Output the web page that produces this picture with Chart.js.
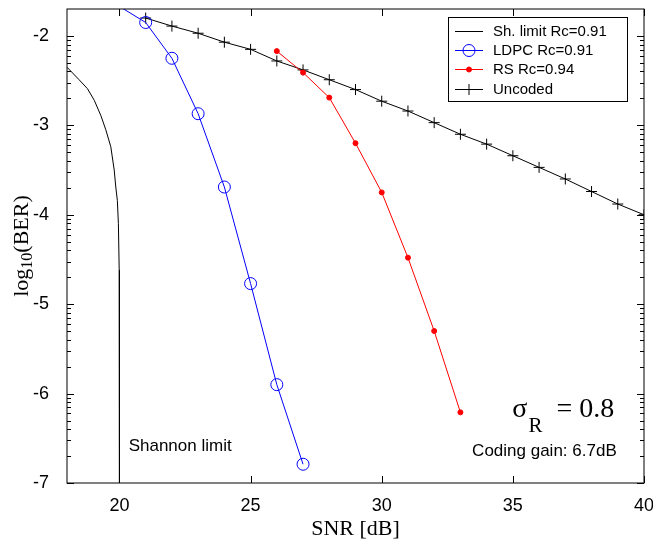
<!DOCTYPE html>
<html>
<head>
<meta charset="utf-8">
<script src="https://cdn.jsdelivr.net/npm/chart.js@4.4.1/dist/chart.umd.min.js"></script>
<style>
    html, body { margin: 0; padding: 0; background: #fff; }
    #wrap { width: 653px; height: 542px; }
</style>
</head>
<body>
<div id="wrap"><canvas id="berChart" width="653" height="542"></canvas></div>
<script>
// Axis ticks
const xTicks = [20, 25, 30, 35, 40];
const yTicks = [-7, -6, -5, -4, -3, -2];
const xMin = 18, xMax = 40;
const yMin = -7, yMax = Math.log10(0.02);

// Shannon limit, Rc = 0.91
const snrShannon = [18.0, 18.46, 18.78, 19.04, 19.29, 19.48, 19.67, 19.80, 19.86, 19.92, 19.96, 19.99, 20.0];
const berShannon = [-2.35, -2.49, -2.59, -2.72, -2.89, -3.05, -3.24, -3.50, -3.69, -3.84, -4.10, -4.62, -7.2];

// LDPC, Rc = 0.91
const snrLdpc = [20, 21, 22, 23, 24, 25, 26, 27];
const berLdpc = [-1.67, -1.85, -2.25, -2.87, -3.69, -4.77, -5.90, -6.79];

// RS, Rc = 0.94
const snrRs = [26, 27, 28, 29, 30, 31, 32, 33];
const berRs = [-2.17, -2.41, -2.69, -3.20, -3.75, -4.48, -5.30, -6.21];

// Uncoded
const snrUncoded = [21, 22, 23, 24, 25, 26, 27, 28, 29, 30, 31, 32, 33, 34, 35, 36, 37, 38, 39, 40];
const berUncoded = [-1.80, -1.89, -1.97, -2.07, -2.15, -2.28, -2.38, -2.49, -2.60, -2.73,
    -2.84, -2.97, -3.10, -3.21, -3.34, -3.47, -3.60, -3.74, -3.88, -4.00];

const toXY = (xs, ys) => xs.map((x, i) => ({ x: x, y: ys[i] }));

Chart.defaults.font.family = "'Liberation Sans', Arial, sans-serif";
Chart.defaults.color = '#000';

const serif = "'Liberation Serif', 'Times New Roman', serif";

// box round the plot with inward ticks on all four sides
const frameTicks = {
    id: 'frameTicks',
    afterDraw(chart) {
        const { ctx, chartArea: a, scales: { x, y } } = chart;
        ctx.save();
        ctx.strokeStyle = '#000';
        ctx.lineWidth = 1;
        ctx.strokeRect(a.left, a.top, a.right - a.left, a.bottom - a.top);
        ctx.beginPath();
        xTicks.forEach(v => {
            const px = Math.round(x.getPixelForValue(v)) + 0.5;
            ctx.moveTo(px, a.bottom); ctx.lineTo(px, a.bottom - 7);
            ctx.moveTo(px, a.top); ctx.lineTo(px, a.top + 7);
        });
        yTicks.forEach(v => {
            const py = Math.round(y.getPixelForValue(v)) + 0.5;
            ctx.moveTo(a.left, py); ctx.lineTo(a.left + 7, py);
            ctx.moveTo(a.right, py); ctx.lineTo(a.right - 7, py);
        });
        // minor ticks of the log scale
        yTicks.forEach(d => {
            for (let k = 2; k <= 9; k++) {
                const v = d + Math.log10(k);
                if (v >= yMax - 1e-6) continue;
                const py = Math.round(y.getPixelForValue(v)) + 0.5;
                ctx.moveTo(a.left, py); ctx.lineTo(a.left + 4, py);
                ctx.moveTo(a.right, py); ctx.lineTo(a.right - 4, py);
            }
        });
        ctx.stroke();
        ctx.restore();
    }
};

// legend box in the top right corner
const boxLegend = {
    id: 'boxLegend',
    afterDraw(chart) {
        const ctx = chart.ctx;
        const left = 448, top = 17, w = 179, h = 84;
        ctx.save();
        ctx.fillStyle = '#fff';
        ctx.fillRect(left, top, w, h);
        ctx.strokeStyle = '#000';
        ctx.lineWidth = 1;
        ctx.strokeRect(left + 0.5, top + 0.5, w, h);
        ctx.font = "15px 'Liberation Sans', Arial, sans-serif";
        ctx.textBaseline = 'middle';
        chart.data.datasets.forEach((ds, i) => {
            const cy = Math.round(top + 13.5 + i * 19.4) + 0.5;
            ctx.strokeStyle = ds.borderColor;
            ctx.lineWidth = 1;
            ctx.beginPath();
            ctx.moveTo(455, cy); ctx.lineTo(483, cy);
            ctx.stroke();
            if (ds.legendRadius) {
                ctx.strokeStyle = ds.pointBorderColor;
                ctx.fillStyle = ds.pointBackgroundColor;
                Chart.helpers.drawPoint(ctx, {
                    pointStyle: ds.pointStyle, radius: ds.legendRadius,
                    borderWidth: 1, rotation: 0
                }, 469, cy);
            }
            ctx.fillStyle = '#000';
            ctx.fillText(ds.label, 493, cy);
        });
        ctx.restore();
    }
};

// text notes inside the plot
const notes = {
    id: 'notes',
    afterDraw(chart) {
        const { ctx, scales: { x, y } } = chart;
        ctx.save();
        ctx.fillStyle = '#000';
        ctx.textBaseline = 'middle';
        ctx.font = "17px 'Liberation Sans', Arial, sans-serif";
        ctx.textAlign = 'left';
        ctx.fillText('Shannon limit', x.getPixelForValue(20.35), y.getPixelForValue(-6.59));
        ctx.textAlign = 'right';
        ctx.fillText('Coding gain: 6.7dB', x.getPixelForValue(38.96), y.getPixelForValue(-6.65));

        // sigma_R = 0.8
        ctx.textAlign = 'left';
        ctx.textBaseline = 'alphabetic';
        let sx = x.getPixelForValue(34.98);
        const sy = y.getPixelForValue(-6.26);
        ctx.font = '28px ' + serif;
        ctx.fillText('\u03c3', sx, sy);
        sx += ctx.measureText('\u03c3').width + 1;
        ctx.font = '21px ' + serif;
        ctx.fillText('R', sx, sy + 15);
        sx += ctx.measureText('R').width + 14;
        ctx.font = '28px ' + serif;
        ctx.fillText('= 0.8', sx, sy);

        // y axis title with subscript
        ctx.translate(22, (chart.chartArea.top + chart.chartArea.bottom) / 2);
        ctx.rotate(-Math.PI / 2);
        ctx.textBaseline = 'middle';
        const big = '22px ' + serif;
        const small = '16px ' + serif;
        ctx.font = big;
        const w1 = ctx.measureText('log').width;
        const w3 = ctx.measureText('(BER)').width;
        ctx.font = small;
        const w2 = ctx.measureText('10').width;
        let tx = -(w1 + w2 + w3) / 2;
        ctx.font = big;
        ctx.fillText('log', tx, 0);
        tx += w1;
        ctx.font = small;
        ctx.fillText('10', tx, 6);
        tx += w2;
        ctx.font = big;
        ctx.fillText('(BER)', tx, 0);
        ctx.restore();
    }
};

const ctx = document.getElementById('berChart').getContext('2d');
new Chart(ctx, {
    type: 'scatter',
    data: {
        datasets: [{
            label: 'Sh. limit Rc=0.91',
            data: toXY(snrShannon, berShannon),
            showLine: true,
            borderColor: '#000000',
            borderWidth: 1,
            pointRadius: 0,
            legendRadius: 0
        }, {
            label: 'LDPC Rc=0.91',
            data: toXY(snrLdpc, berLdpc),
            showLine: true,
            borderColor: '#0000ff',
            borderWidth: 1,
            pointStyle: 'circle',
            pointRadius: c => (c.raw && c.raw.y > yMax ? 0 : 6),
            pointBorderColor: '#0000ff',
            pointBackgroundColor: 'rgba(0,0,0,0)',
            pointBorderWidth: 1,
            legendRadius: 6
        }, {
            label: 'RS Rc=0.94',
            data: toXY(snrRs, berRs),
            showLine: true,
            borderColor: '#ff0000',
            borderWidth: 1,
            pointStyle: 'circle',
            pointRadius: 2.5,
            pointBorderColor: '#ff0000',
            pointBackgroundColor: '#ff0000',
            pointBorderWidth: 1,
            legendRadius: 2.5
        }, {
            label: 'Uncoded',
            data: toXY(snrUncoded, berUncoded),
            showLine: true,
            borderColor: '#000000',
            borderWidth: 1,
            pointStyle: 'cross',
            pointRadius: 5.5,
            pointBorderColor: '#000000',
            pointBackgroundColor: '#000000',
            pointBorderWidth: 1,
            legendRadius: 5.5
        }]
    },
    options: {
        responsive: false,
        animation: false,
        events: [],
        layout: { padding: { top: 9, right: 9, left: 0, bottom: 0 } },
        plugins: {
            legend: { display: false },
            tooltip: { enabled: false }
        },
        scales: {
            x: {
                type: 'linear',
                min: xMin,
                max: xMax,
                afterBuildTicks: s => { s.ticks = xTicks.map(v => ({ value: v })); },
                afterFit: s => { s.height = 59; s.paddingLeft = 0; s.paddingRight = 0; },
                grid: { display: false },
                border: { display: false },
                ticks: { font: { size: 18 }, padding: 4, maxRotation: 0 },
                title: {
                    display: true,
                    text: 'SNR [dB]',
                    font: { family: serif, size: 22 },
                    padding: { top: 0, bottom: 0 }
                }
            },
            y: {
                type: 'linear',
                min: yMin,
                max: yMax,
                afterBuildTicks: s => { s.ticks = yTicks.map(v => ({ value: v })); },
                afterFit: s => { s.width = 67; s.paddingTop = 0; s.paddingBottom = 0; },
                grid: { display: false },
                border: { display: false },
                ticks: { font: { size: 18 }, padding: 10 }
            }
        }
    },
    plugins: [frameTicks, boxLegend, notes]
});
</script>
</body>
</html>
